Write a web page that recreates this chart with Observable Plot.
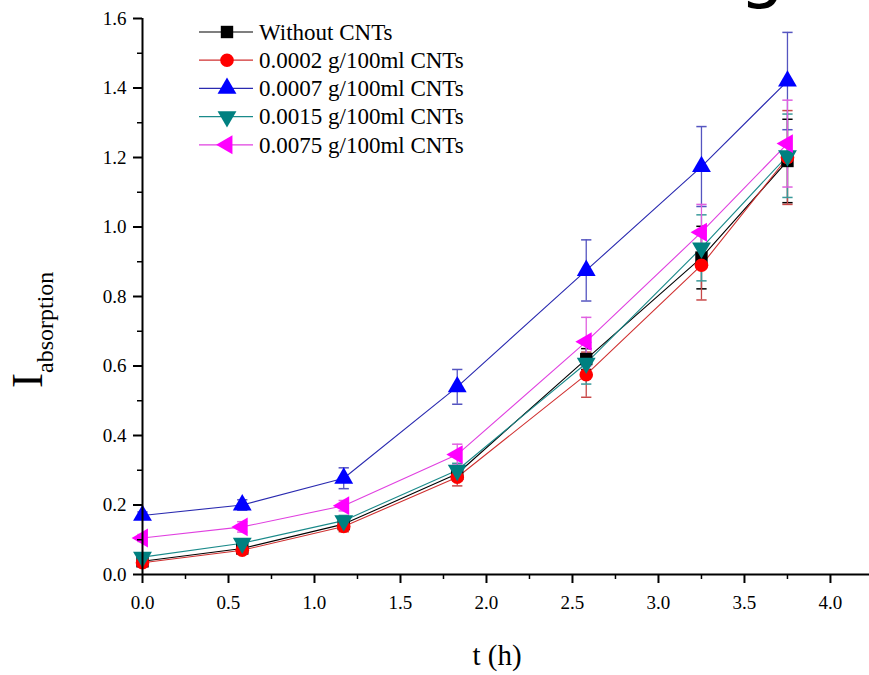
<!DOCTYPE html>
<html>
<head>
<meta charset="utf-8">
<script src="https://cdn.jsdelivr.net/npm/d3@7"></script>
<script src="https://cdn.jsdelivr.net/npm/@observablehq/plot@0.6"></script>
<style>
  html, body { margin: 0; padding: 0; background: #fff; }
  #chart svg { display: block; }
</style>
</head>
<body>
<div id="chart"></div>
<script>
// ---- data ----
const times = [0, 0.58, 1.17, 1.83, 2.58, 3.25, 3.75];
const seriesNames = ["Without CNTs", "0.0002 g/100ml CNTs", "0.0007 g/100ml CNTs", "0.0015 g/100ml CNTs", "0.0075 g/100ml CNTs"];
const withoutCNTs = [0.038, 0.075, 0.145, 0.29, 0.62, 0.912, 1.19];
const cnt0002 = [0.034, 0.07, 0.138, 0.28, 0.575, 0.89, 1.20];
const cnt0007 = [0.17, 0.20, 0.277, 0.54, 0.875, 1.174, 1.42];
const cnt0015 = [0.05, 0.09, 0.155, 0.30, 0.608, 0.94, 1.205];
const cnt0075 = [0.105, 0.137, 0.198, 0.345, 0.67, 0.985, 1.24];
const errWithout = [0.01, 0.01, 0.015, 0.02, 0.03, 0.09, 0.12];
const err0002 = [0.01, 0.01, 0.015, 0.025, 0.065, 0.10, 0.135];
const err0007 = [0.01, 0.015, 0.03, 0.05, 0.088, 0.115, 0.14];
const err0015 = [0.01, 0.01, 0.015, 0.02, 0.06, 0.095, 0.12];
const err0075 = [0.01, 0.015, 0.015, 0.03, 0.07, 0.08, 0.125];
const xTicks = [0, 0.5, 1, 1.5, 2, 2.5, 3, 3.5, 4];
const xMinorTicks = [0.25, 0.75, 1.25, 1.75, 2.25, 2.75, 3.25, 3.75, 4.25];
const yTicks = [0, 0.2, 0.4, 0.6, 0.8, 1.0, 1.2, 1.4, 1.6];
const yMinorTicks = [0.1, 0.3, 0.5, 0.7, 0.9, 1.1, 1.3, 1.5];

// ---- styling ----
const values = [withoutCNTs, cnt0002, cnt0007, cnt0015, cnt0075];
const errors = [errWithout, err0002, err0007, err0015, err0075];
const markerColors = ["#000000", "#ff0000", "#0000ff", "#008080", "#ff00ff"];
const lineColors = ["#000000", "#d03030", "#2a2ab0", "#1a8a8a", "#e040e0"];
const errColors = ["#000000", "#c84848", "#5555c0", "#3a9a9a", "#e060e0"];
const symbols = ["square", "circle", "triangle", "triangle", "triangle"];
const rotations = [0, 0, 0, 180, -90];

const rows = seriesNames.flatMap((s, k) => times.map((t, i) => ({series: s, k, t, v: values[k][i], e: errors[k][i]})));

const capSymbol = {
  draw(ctx, size) {
    const w = Math.sqrt(size);
    ctx.moveTo(-w / 2, 0);
    ctx.lineTo(w / 2, 0);
  }
};

const marks = [];
// error bars
seriesNames.forEach((s, k) => {
  const d = rows.filter(r => r.k === k);
  marks.push(Plot.ruleX(d, {x: "t", y1: r => r.v - r.e, y2: r => r.v + r.e, stroke: errColors[k], strokeWidth: 1.3}));
  marks.push(Plot.dot(d, {x: "t", y: r => r.v + r.e, symbol: capSymbol, r: 5.8, stroke: errColors[k], fill: "none", strokeWidth: 1.5}));
  marks.push(Plot.dot(d, {x: "t", y: r => r.v - r.e, symbol: capSymbol, r: 5.8, stroke: errColors[k], fill: "none", strokeWidth: 1.5}));
});
// lines
seriesNames.forEach((s, k) => {
  const d = rows.filter(r => r.k === k);
  marks.push(Plot.line(d, {x: "t", y: "v", stroke: lineColors[k], strokeWidth: 1.1}));
});
// markers
seriesNames.forEach((s, k) => {
  const d = rows.filter(r => r.k === k);
  marks.push(Plot.dot(d, {x: "t", y: "v", symbol: symbols[k], r: symbols[k] === "circle" ? 6.8 : 7, rotate: rotations[k], fill: markerColors[k], stroke: "none"}));
});

const chart = Plot.plot({
  width: 869,
  height: 675,
  marginLeft: 142,
  marginRight: 0,
  marginTop: 18,
  marginBottom: 101,
  x: {domain: [0, 4.227]},
  y: {domain: [0, 1.6]},
  style: {fontFamily: "'Liberation Serif', 'Times New Roman', serif", fontSize: "19px", background: "#fff", color: "#000"},
  marks: [
    ...marks,
    Plot.ruleY([0], {stroke: "#000", strokeWidth: 2}),
    Plot.ruleX([0], {stroke: "#000", strokeWidth: 2}),
    Plot.axisX({ticks: xTicks, tickFormat: d3.format(".1f"), tickSize: 9, tickPadding: 12, strokeWidth: 2, label: null, fontSize: 19}),
    Plot.axisX({ticks: xMinorTicks, tickFormat: () => "", tickSize: 5, strokeWidth: 1.5, label: null}),
    Plot.axisY({ticks: yTicks, tickFormat: d3.format(".1f"), tickSize: 9, tickPadding: 7, strokeWidth: 2, label: null, fontSize: 19}),
    Plot.axisY({ticks: yMinorTicks, tickFormat: () => "", tickSize: 5, strokeWidth: 1.5, label: null})
  ]
});

const svg = d3.select(chart);

// legend
const leg = svg.append("g").attr("class", "legend").attr("text-anchor", "start");
const symMap = {square: d3.symbolSquare, circle: d3.symbolCircle, triangle: d3.symbolTriangle};
seriesNames.forEach((s, k) => {
  const y = 32 + k * 28.2;
  leg.append("line").attr("x1", 199).attr("x2", 253).attr("y1", y).attr("y2", y)
    .attr("stroke", lineColors[k]).attr("stroke-width", 1.2);
  const r = symbols[k] === "circle" ? 6.8 : 7;
  leg.append("path")
    .attr("d", d3.symbol(symMap[symbols[k]], Math.PI * r * r)())
    .attr("transform", `translate(227,${y}) rotate(${rotations[k]})`)
    .attr("fill", markerColors[k]);
  leg.append("text").attr("x", 259).attr("y", y).attr("dy", "0.34em")
    .attr("text-anchor", "start")
    .attr("font-family", "'Liberation Serif', serif").attr("font-size", 23)
    .attr("fill", "#000").text(s);
});

// y-axis label with subscript
const yl = svg.append("text")
  .attr("transform", "translate(42,388) rotate(-90)")
  .attr("text-anchor", "start")
  .attr("font-family", "'Liberation Serif', serif")
  .attr("fill", "#000");
yl.append("tspan").attr("font-size", 45).text("I");
yl.append("tspan").attr("font-size", 24).attr("dy", 11).text("absorption");

// x-axis label
svg.append("text").attr("x", 497).attr("y", 665).attr("text-anchor", "middle")
  .attr("font-family", "'Liberation Serif', serif").attr("font-size", 29)
  .attr("fill", "#000").text("t (h)");

// cropped panel letter at the top edge (cut off in the original as well)
svg.append("text").attr("x", 762).attr("y", -6).attr("text-anchor", "middle")
  .attr("font-family", "'DejaVu Sans', sans-serif").attr("font-size", 72)
  .attr("fill", "#000").text("g");

document.getElementById("chart").appendChild(chart);
</script>
</body>
</html>
